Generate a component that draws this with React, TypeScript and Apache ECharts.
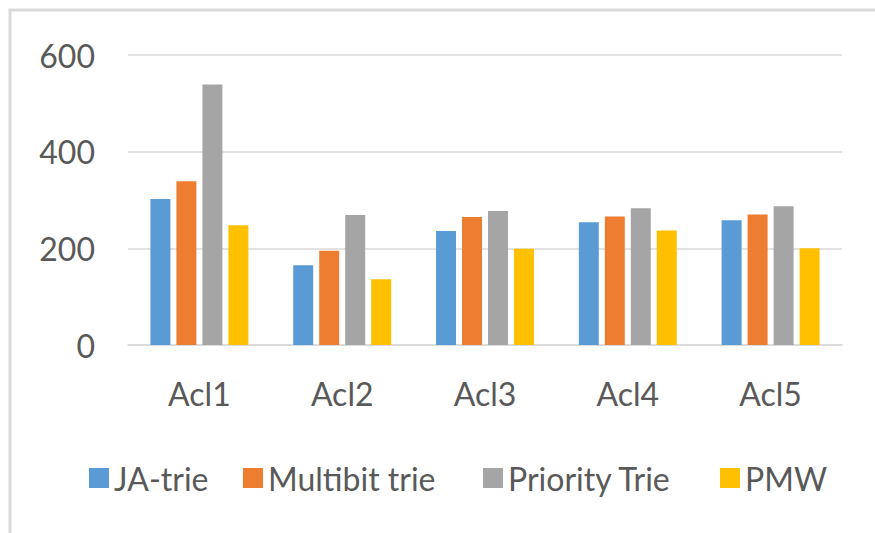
import React, { useEffect, useRef } from "react";
import * as echarts from "echarts";

const categories = ["Acl1", "Acl2", "Acl3", "Acl4", "Acl5"];
const seriesNames = ["JA-trie", "Multibit trie", "Priority Trie", "PMW"];
const jaTrie = [302, 165, 236, 254, 258];
const multibitTrie = [339, 195, 265, 266, 270];
const priorityTrie = [539, 269, 277, 283, 287];
const pmw = [248, 136, 199, 237, 200];
const yTicks = [0, 200, 400, 600];
const colors = ["#5B9BD5", "#ED7D31", "#A5A5A5", "#FFC000"];
const legendLefts = [84, 238, 478, 715];

export default function App() {
  const ref = useRef<HTMLDivElement>(null);
  useEffect(() => {
    if (!ref.current) return;
    const chart = echarts.init(ref.current, null, { renderer: "svg" });
    const font = "Lato";
    const textColor = "#595959";
    const data = [jaTrie, multibitTrie, priorityTrie, pmw];
    chart.setOption({
      animation: false,
      backgroundColor: "#ffffff",
      color: colors,
      graphic: [
        {
          type: "rect",
          shape: { x: 10, y: 10, width: 900, height: 600 },
          style: { fill: "none", stroke: "#d9d9d9", lineWidth: 3 },
          silent: true,
        },
      ],
      grid: { left: 128, right: 33, top: 55, bottom: 188, containLabel: false },
      legend: seriesNames.map((name, i) => ({
        left: legendLefts[i],
        top: 457,
        itemWidth: 20,
        itemHeight: 20,
        icon: "rect",
        textStyle: { fontFamily: font, fontSize: 32, color: textColor },
        data: [name],
      })),
      xAxis: {
        type: "category",
        data: categories,
        axisLine: { lineStyle: { color: "#d9d9d9", width: 1.5 } },
        axisTick: { show: false },
        axisLabel: { fontFamily: font, fontSize: 32, color: textColor, margin: 32 },
      },
      yAxis: {
        type: "value",
        min: yTicks[0],
        max: yTicks[yTicks.length - 1],
        interval: 200,
        axisLine: { show: false },
        axisTick: { show: false },
        splitLine: { lineStyle: { color: "#d9d9d9", width: 1.5 } },
        axisLabel: { fontFamily: font, fontSize: 32, color: textColor, margin: 33 },
      },
      series: seriesNames.map((name, i) => ({
        name,
        type: "bar",
        data: data[i],
        barWidth: "14%",
        barGap: "30%",
        itemStyle: { color: colors[i] },
      })),
    });
    return () => chart.dispose();
  }, []);
  return (
    <div
      ref={ref}
      style={{ position: "absolute", left: 0, top: 0, width: 875, height: 533 }}
    />
  );
}
